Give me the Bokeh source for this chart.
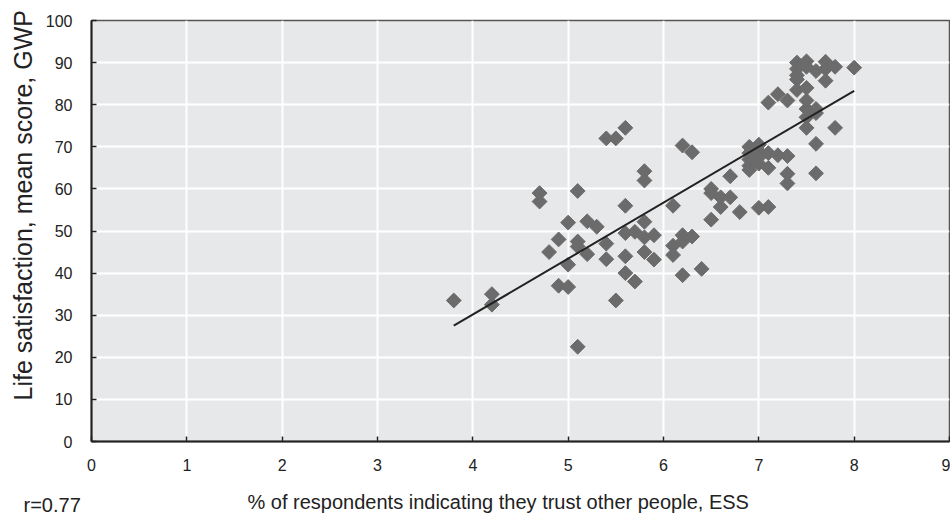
import math
from bokeh.plotting import figure
from bokeh.models import Range1d, FixedTicker, Title
from bokeh.embed import file_html
from bokeh.resources import INLINE

# trust (% ESS) and life satisfaction (mean score GWP)
trust = [3.8, 4.2, 4.2,
         4.7, 4.7, 4.8, 4.9, 4.9,
         5.0, 5.0, 5.0,
         5.1, 5.1, 5.1, 5.1,
         5.2, 5.2, 5.3,
         5.4, 5.4, 5.4,
         5.5, 5.5,
         5.6, 5.6, 5.6, 5.6, 5.6,
         5.7, 5.7,
         5.8, 5.8, 5.8, 5.8, 5.8,
         5.9, 5.9,
         6.1, 6.1, 6.1,
         6.2, 6.2, 6.2, 6.2,
         6.3, 6.3,
         6.4,
         6.5, 6.5, 6.5,
         6.6, 6.6,
         6.7, 6.7,
         6.8,
         6.9, 6.9, 6.9, 6.9, 6.9,
         7.0, 7.0, 7.0, 7.0, 7.0,
         7.1, 7.1, 7.1, 7.1,
         7.2, 7.2,
         7.3, 7.3, 7.3, 7.3,
         7.4, 7.4, 7.4, 7.4, 7.4,
         7.5, 7.5, 7.5, 7.5, 7.5, 7.5, 7.5,
         7.6, 7.6, 7.6, 7.6, 7.6,
         7.7, 7.7, 7.7,
         7.8, 7.8,
         8.0]
life = [33.5, 35.0, 32.5,
        59.0, 57.0, 45.0, 48.0, 37.0,
        52.0, 42.0, 36.7,
        59.5, 47.5, 46.3, 22.5,
        52.3, 44.5, 51.0,
        72.0, 47.0, 43.3,
        72.0, 33.5,
        74.5, 56.0, 49.5, 44.0, 40.0,
        49.8, 38.0,
        64.2, 62.0, 52.2, 48.5, 45.0,
        49.0, 43.2,
        56.0, 46.5, 44.3,
        70.3, 49.0, 47.5, 39.5,
        68.7, 48.7,
        41.0,
        60.0, 59.0, 52.7,
        58.0, 55.7,
        63.0, 58.0,
        54.5,
        70.0, 68.5, 67.0, 65.5, 64.5,
        70.5, 69.0, 67.5, 66.0, 55.5,
        80.5, 68.5, 65.0, 55.7,
        82.5, 68.0,
        81.0, 67.8, 63.6, 61.3,
        90.0, 88.5, 87.0, 86.0, 83.5,
        90.3, 89.0, 84.0, 81.0, 79.0, 77.0, 74.5,
        88.0, 79.0, 78.0, 70.7, 63.7,
        90.2, 88.5, 85.7,
        89.0, 74.5,
        88.8]

trend_x = [3.8, 8.0]
trend_y = [27.5, 83.3]

x_ticks = [0, 1, 2, 3, 4, 5, 6, 7, 8, 9]
y_ticks = [0, 10, 20, 30, 40, 50, 60, 70, 80, 90, 100]

x_title = "% of respondents indicating they trust other people, ESS"
y_title = "Life satisfaction, mean score, GWP"
r_text = "r=0.77"

FONT = "Liberation Sans"
TXT = "#222222"
W, H = 950, 518

p = figure(width=W, height=H, output_backend="svg", toolbar_location=None,
           x_range=Range1d(0, 9), y_range=Range1d(0, 100),
           min_border_left=91, min_border_right=1, min_border_top=20, min_border_bottom=77)
p.background_fill_color = "#e7e8ea"
p.border_fill_color = "white"
p.outline_line_color = "#555555"
p.outline_line_width = 1.5

for ax in (p.xaxis[0], p.yaxis[0]):
    ax.axis_line_color = "#222222"
    ax.axis_line_width = 2
    ax.major_tick_in = 5
    ax.major_tick_out = 0
    ax.major_tick_line_color = "#222222"
    ax.major_tick_line_width = 1.5
    ax.minor_tick_line_color = None
    ax.major_label_text_font = FONT
    ax.major_label_text_font_size = "16px"
    ax.major_label_text_color = TXT

p.xaxis[0].ticker = FixedTicker(ticks=x_ticks)
p.yaxis[0].ticker = FixedTicker(ticks=y_ticks)
p.xaxis[0].major_label_standoff = 17
p.yaxis[0].major_label_standoff = 19
# blank axis label: only reserves the gap between tick labels and the titles below
p.xaxis[0].axis_label = " "
p.xaxis[0].axis_label_text_font_size = "10px"
p.xaxis[0].axis_label_standoff = 18

p.xgrid[0].ticker = FixedTicker(ticks=x_ticks)
p.ygrid[0].ticker = FixedTicker(ticks=y_ticks)
for g in (p.xgrid[0], p.ygrid[0]):
    g.grid_line_color = "white"
    g.grid_line_width = 2

p.scatter(trust, life, marker="square", size=10.5, angle=math.pi / 4,
          fill_color="#6b6b6b", line_color="#6b6b6b", line_width=1)
p.line(trend_x, trend_y, line_color="#222222", line_width=2)

t_x = Title(text=x_title, align="left", offset=156, vertical_align="top", standoff=-29,
            text_font=FONT, text_font_size="20px", text_font_style="normal", text_color=TXT)
t_r = Title(text=r_text, align="left", offset=-68, vertical_align="top", standoff=-24,
            text_font=FONT, text_font_size="20px", text_font_style="normal", text_color=TXT)
p.add_layout(t_x, "below")
p.add_layout(t_r, "below")

t_y = Title(text=y_title, align="left", offset=41, vertical_align="middle", standoff=10,
            text_font=FONT, text_font_size="25px", text_font_style="normal", text_color=TXT)
p.add_layout(t_y, "left")

open("out.html", "w").write(file_html(p, INLINE))
